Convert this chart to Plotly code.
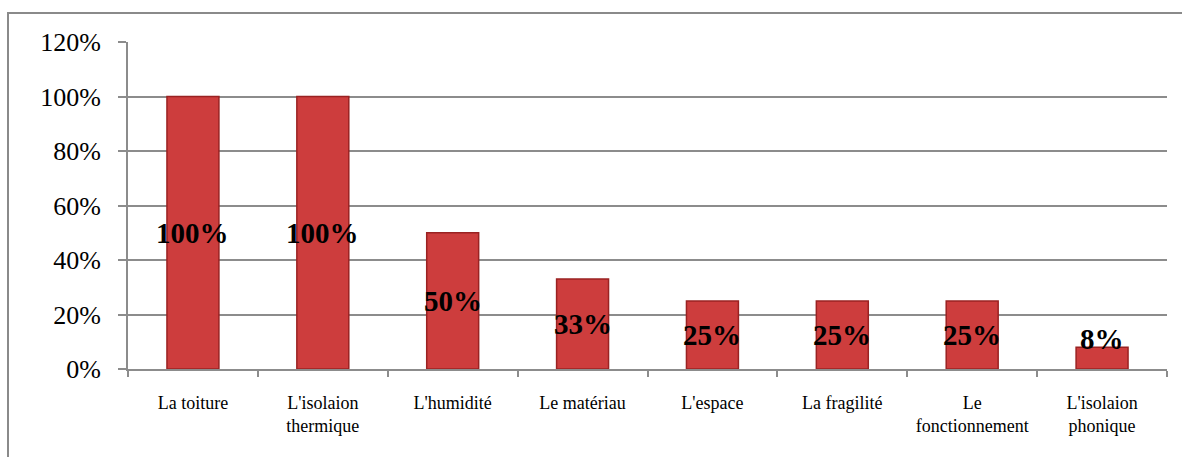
import plotly.graph_objects as go

categories = ["La toiture", "L'isolaion<br>thermique", "L'humidité", "Le matériau",
              "L'espace", "La fragilité", "Le<br>fonctionnement", "L'isolaion<br>phonique"]
values = [1.00, 1.00, 0.50, 0.33, 0.25, 0.25, 0.25, 0.08]
labels = ["100%", "100%", "50%", "33%", "25%", "25%", "25%", "8%"]
y_ticks = [0, 0.2, 0.4, 0.6, 0.8, 1.0, 1.2]
y_tick_text = ["0%", "20%", "40%", "60%", "80%", "100%", "120%"]

W, H = 1182, 457
ML, MR, MT, MB = 128, 15, 42, 88
pw, ph = W - ML - MR, H - MT - MB

serif = "Liberation Serif, Times New Roman, serif"
grid = "#8c8c8c"

fig = go.Figure()
fig.add_trace(go.Bar(
    x=categories, y=values,
    marker=dict(color="#cd3d3d", line=dict(color="#9a2222", width=1.5)),
    width=0.4,
    hoverinfo="skip",
))

# value labels centred in each bar; short bars get the label sitting on top
lab_font = dict(family=serif, size=29, color="black", weight="bold")
annotations = []
for c, v, t in zip(categories, values, labels):
    if v < 0.15:
        annotations.append(dict(x=c, y=v, text=t, showarrow=False, yanchor="bottom",
                                yshift=-10, font=lab_font))
    else:
        annotations.append(dict(x=c, y=v / 2, text=t, showarrow=False, yanchor="middle",
                                font=lab_font))

# outer chart frame
frame = dict(type="rect", xref="paper", yref="paper",
             x0=(8 - ML) / pw, x1=(W + 10 - ML) / pw,
             y0=-(H + 10 - MT - ph) / ph, y1=(H - MB - 13) / ph,
             line=dict(color="#8a8a8a", width=2), layer="below")

fig.update_layout(
    width=W, height=H,
    margin=dict(l=ML, r=MR, t=MT, b=MB),
    paper_bgcolor="white", plot_bgcolor="white",
    showlegend=False,
    bargap=0.6,
    annotations=annotations,
    shapes=[frame],
    xaxis=dict(
        tickson="boundaries", ticks="outside", ticklen=6, tickcolor=grid, tickwidth=2,
        showline=True, linecolor=grid, linewidth=2,
        tickfont=dict(family=serif, size=18, color="black"),
        ticklabelstandoff=16,
        showgrid=False, fixedrange=True,
    ),
    yaxis=dict(
        range=[0, 1.2], tickvals=y_ticks, ticktext=y_tick_text,
        ticks="outside", ticklen=8, tickcolor=grid, tickwidth=2,
        showline=True, linecolor=grid, linewidth=2,
        showgrid=True, gridcolor=grid, gridwidth=2,
        zeroline=False,
        tickfont=dict(family=serif, size=26, color="black"),
        ticklabelstandoff=12, fixedrange=True,
    ),
)

fig.write_html("out.html")
